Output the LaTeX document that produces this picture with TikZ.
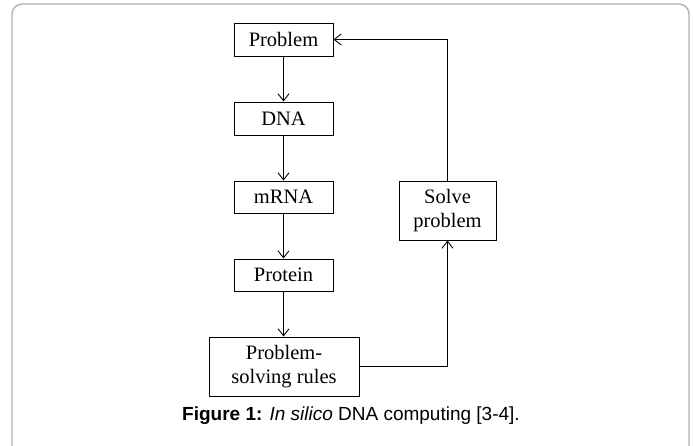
\documentclass[tikz,border=0pt]{standalone}
\usepackage{fontspec}
\setmainfont{Liberation Serif}
\setsansfont{Liberation Sans}
\usetikzlibrary{arrows.meta}
\begin{document}
\begin{tikzpicture}[x=1pt,y=-1pt,
  box/.style={draw=black,line width=1pt,inner sep=0pt,align=center,
    font=\fontsize{20.5}{24.5}\selectfont},
  conn/.style={line width=0.9pt,-{Straight Barb[length=7pt,width=11pt]}}]
\useasboundingbox (0,0) rectangle (693,445);
\begin{scope}
\clip (0,0) rectangle (693,445);
\draw[line width=1.4pt,draw=black!30,rounded corners=10pt] (12,4) rectangle (689,470);
\end{scope}
\node[box,minimum width=99pt,minimum height=33pt] (prob) at (283.5,39.5) {Problem};
\node[box,minimum width=99pt,minimum height=33pt] (dna) at (283.5,118.5) {DNA};
\node[box,minimum width=99pt,minimum height=32pt] (mrna) at (283.5,197) {mRNA};
\node[box,minimum width=99pt,minimum height=32pt] (prot) at (283.5,275) {Protein};
\node[box,minimum width=150pt,minimum height=59pt] (rules) at (284,366.5) {Problem-\\solving rules};
\node[box,minimum width=97pt,minimum height=59pt] (solve) at (447.5,210.5) {Solve\\problem};
\draw[conn] (prob) -- (dna);
\draw[conn] (dna) -- (mrna);
\draw[conn] (mrna) -- (prot);
\draw[conn] (prot) -- (prot|-rules.north);
\draw[conn] (rules.east) -| (solve.south);
\draw[conn] (solve.north) |- (prob.east);
\node[font=\sffamily\fontsize{19}{22}\selectfont] (cap) at (351,416)
  {\textbf{Figure 1:} \textit{In silico} DNA computing [3-4].};
\end{tikzpicture}
\end{document}
